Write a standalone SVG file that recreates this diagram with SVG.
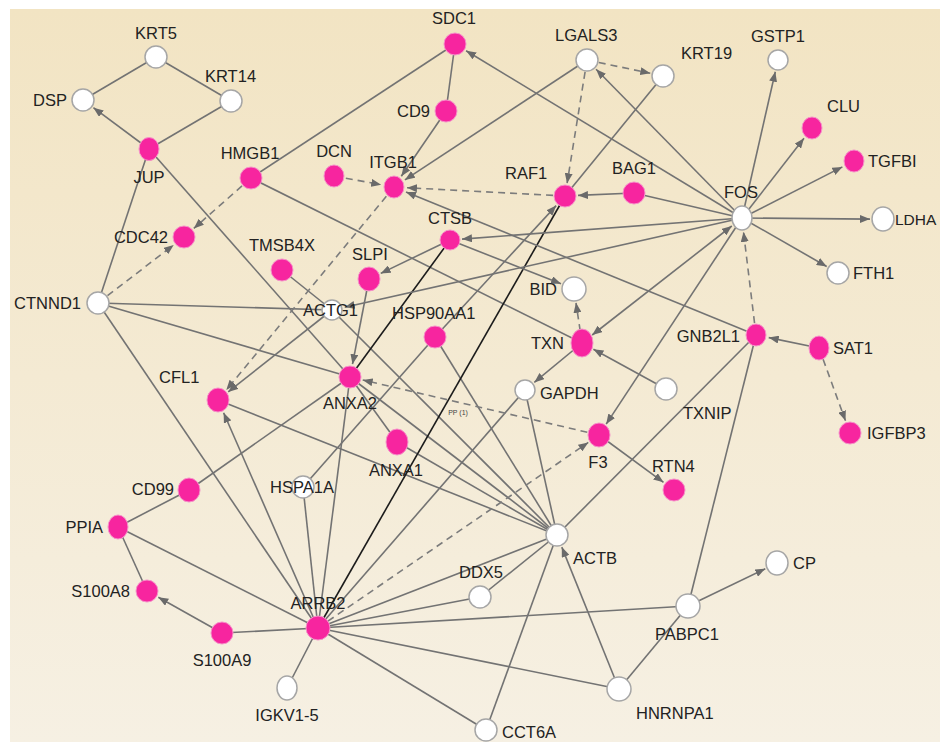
<svg xmlns="http://www.w3.org/2000/svg" width="940" height="742" viewBox="0 0 940 742">
<defs>
<linearGradient id="bg" x1="0" y1="0" x2="0" y2="1">
<stop offset="0" stop-color="#f2e4c3"/>
<stop offset="1" stop-color="#f6f0e3"/>
</linearGradient>
<marker id="ah" viewBox="0 0 10 8" refX="10" refY="4" markerWidth="10" markerHeight="8" markerUnits="userSpaceOnUse" orient="auto-start-reverse">
<path d="M0,0 L10,4 L0,8 z" fill="#6a6a6a"/>
</marker>
</defs>
<style>
.e{stroke:#737373;stroke-width:1.6;fill:none}
.d{stroke-dasharray:7 5;stroke:#7c7c7c}
.k{stroke:#1c1c1c;stroke-width:1.6}
.a{marker-end:url(#ah)}
.b{marker-start:url(#ah);marker-end:url(#ah)}
.p{fill:#f7259f;stroke:#f592c9;stroke-width:1}
.w{fill:#ffffff;stroke:#a6a6a6;stroke-width:1.5}
text{font-family:"Liberation Sans",Arial,sans-serif;font-size:16.5px;fill:#222222}
.m{text-anchor:middle}
.r{text-anchor:end}
.s{font-size:7px;fill:#444444}
</style>
<rect width="940" height="742" fill="#ffffff"/>
<rect x="10" y="9" width="930" height="733" fill="url(#bg)"/>
<g id="edges">
<line class="e" x1="156" y1="57" x2="83" y2="100"/>
<line class="e" x1="156" y1="57" x2="231" y2="101"/>
<line class="e" x1="149" y1="149" x2="231" y2="101"/>
<line class="e" x1="149" y1="149" x2="98" y2="303"/>
<line class="e" x1="149" y1="149" x2="350" y2="377"/>
<line class="e" x1="251" y1="178" x2="455" y2="44"/>
<line class="e" x1="455" y1="44" x2="446" y2="111"/>
<line class="e" x1="251" y1="178" x2="582" y2="343"/>
<line class="e" x1="663" y1="76" x2="565" y2="196"/>
<line class="e" x1="634" y1="193" x2="742" y2="218"/>
<line class="e" x1="98" y1="303" x2="332" y2="310"/>
<line class="e" x1="98" y1="303" x2="350" y2="377"/>
<line class="e" x1="98" y1="303" x2="318" y2="628"/>
<line class="e" x1="282" y1="270" x2="332" y2="310"/>
<line class="e" x1="332" y1="310" x2="557" y2="535"/>
<line class="e" x1="218" y1="400" x2="557" y2="535"/>
<line class="e" x1="189" y1="490" x2="350" y2="377"/>
<line class="e" x1="189" y1="490" x2="118" y2="527"/>
<line class="e" x1="118" y1="527" x2="147" y2="591"/>
<line class="e" x1="118" y1="527" x2="318" y2="628"/>
<line class="e" x1="222" y1="633" x2="318" y2="628"/>
<line class="e" x1="287" y1="688" x2="318" y2="628"/>
<line class="e" x1="303" y1="487" x2="318" y2="628"/>
<line class="e" x1="303" y1="487" x2="435" y2="337"/>
<line class="e" x1="350" y1="377" x2="318" y2="628"/>
<line class="e" x1="350" y1="377" x2="397" y2="442"/>
<line class="e" x1="350" y1="377" x2="557" y2="535"/>
<line class="e" x1="397" y1="442" x2="557" y2="535"/>
<line class="e" x1="435" y1="337" x2="557" y2="535"/>
<line class="e" x1="525" y1="390" x2="557" y2="535"/>
<line class="e" x1="525" y1="390" x2="318" y2="628"/>
<line class="e" x1="318" y1="628" x2="557" y2="535"/>
<line class="e" x1="318" y1="628" x2="480" y2="597"/>
<line class="e" x1="480" y1="597" x2="557" y2="535"/>
<line class="e" x1="318" y1="628" x2="688" y2="606"/>
<line class="e" x1="318" y1="628" x2="619" y2="689"/>
<line class="e" x1="318" y1="628" x2="486" y2="730"/>
<line class="e" x1="486" y1="730" x2="557" y2="535"/>
<line class="e" x1="688" y1="606" x2="619" y2="689"/>
<line class="e" x1="688" y1="606" x2="756" y2="335"/>
<line class="e" x1="756" y1="335" x2="557" y2="535"/>
<line class="e k" x1="450" y1="240" x2="350" y2="377"/>
<line class="e k" x1="565" y1="196" x2="318" y2="628"/>
<line class="e a" x1="149" y1="149" x2="93.4" y2="107.7"/>
<line class="e d a" x1="98" y1="303" x2="173.7" y2="244.9"/>
<line class="e d a" x1="251" y1="178" x2="193.8" y2="228.4"/>
<line class="e a" x1="446" y1="111" x2="401.3" y2="176.3"/>
<line class="e d a" x1="334" y1="176" x2="381.2" y2="184.7"/>
<line class="e a" x1="587" y1="60" x2="404.9" y2="179.9"/>
<line class="e d a" x1="565" y1="196" x2="407" y2="187.7"/>
<line class="e a" x1="756" y1="335" x2="406" y2="191.9"/>
<line class="e d a" x1="394" y1="187" x2="226.3" y2="390"/>
<line class="e a" x1="332" y1="310" x2="228.2" y2="391.9"/>
<line class="e a" x1="318" y1="628" x2="223.6" y2="412.8"/>
<line class="e d a" x1="587" y1="60" x2="650.3" y2="73.3"/>
<line class="e d a" x1="587" y1="60" x2="567.1" y2="183.2"/>
<line class="e a" x1="634" y1="193" x2="578" y2="195.4"/>
<line class="e a" x1="435" y1="337" x2="556.2" y2="205.6"/>
<line class="e a" x1="742" y1="218" x2="466.1" y2="50.7"/>
<line class="e a" x1="742" y1="218" x2="596.1" y2="69.3"/>
<line class="e a" x1="742" y1="218" x2="775.3" y2="71.7"/>
<line class="e a" x1="742" y1="218" x2="804" y2="138.3"/>
<line class="e a" x1="742" y1="218" x2="842.4" y2="166.9"/>
<line class="e a" x1="742" y1="218" x2="870" y2="219.1"/>
<line class="e a" x1="742" y1="218" x2="826.7" y2="266.5"/>
<line class="e a" x1="742" y1="218" x2="462" y2="239.1"/>
<line class="e a" x1="742" y1="218" x2="344.7" y2="307.2"/>
<line class="e b" x1="731.8" y1="226" x2="592.2" y2="335"/>
<line class="e a" x1="742" y1="218" x2="606.2" y2="424.1"/>
<line class="e d a" x1="756" y1="335" x2="743.5" y2="231.9"/>
<line class="e a" x1="819" y1="348" x2="768.7" y2="337.6"/>
<line class="e d a" x1="819" y1="348" x2="845.5" y2="420.8"/>
<line class="e a" x1="450" y1="240" x2="380.7" y2="273.4"/>
<line class="e a" x1="450" y1="240" x2="561" y2="283.8"/>
<line class="e d a" x1="582" y1="343" x2="576" y2="302.8"/>
<line class="e a" x1="582" y1="343" x2="534.3" y2="382.4"/>
<line class="e a" x1="666" y1="389" x2="593.4" y2="349.2"/>
<line class="e a" x1="369" y1="279" x2="352.5" y2="364.2"/>
<line class="e d a" x1="599" y1="435" x2="362.7" y2="380"/>
<line class="e d a" x1="318" y1="628" x2="588.3" y2="442.4"/>
<line class="e a" x1="599" y1="435" x2="663.5" y2="482.3"/>
<line class="e a" x1="222" y1="633" x2="158.3" y2="597.3"/>
<line class="e a" x1="619" y1="689" x2="561.8" y2="547.1"/>
<line class="e a" x1="688" y1="606" x2="765.3" y2="568.7"/>
<text class="s m" x="458" y="415">PP (1)</text>
</g>
<g id="n-KRT5"><ellipse class="w" cx="156" cy="57" rx="11" ry="11"/><text class="m" x="156" y="39">KRT5</text></g>
<g id="n-KRT14"><ellipse class="w" cx="231" cy="101" rx="11" ry="11"/><text x="205" y="82">KRT14</text></g>
<g id="n-DSP"><ellipse class="w" cx="83" cy="100" rx="11" ry="11"/><text class="r" x="67" y="106">DSP</text></g>
<g id="n-JUP"><ellipse class="p" cx="149" cy="149" rx="10" ry="11.5"/><text class="m" x="149" y="183">JUP</text></g>
<g id="n-HMGB1"><ellipse class="p" cx="251" cy="178" rx="11" ry="11"/><text class="m" x="250" y="159">HMGB1</text></g>
<g id="n-CDC42"><ellipse class="p" cx="184" cy="237" rx="11" ry="11"/><text class="r" x="168" y="243">CDC42</text></g>
<g id="n-TMSB4X"><ellipse class="p" cx="282" cy="270" rx="11" ry="11"/><text class="m" x="282" y="251">TMSB4X</text></g>
<g id="n-SDC1"><ellipse class="p" cx="455" cy="44" rx="11" ry="11"/><text class="m" x="454" y="24">SDC1</text></g>
<g id="n-LGALS3"><ellipse class="w" cx="587" cy="60" rx="11" ry="11"/><text x="555" y="41">LGALS3</text></g>
<g id="n-CD9"><ellipse class="p" cx="446" cy="111" rx="11" ry="11"/><text class="r" x="430" y="117">CD9</text></g>
<g id="n-DCN"><ellipse class="p" cx="334" cy="176" rx="10" ry="11"/><text class="m" x="334" y="157">DCN</text></g>
<g id="n-ITGB1"><ellipse class="p" cx="394" cy="187" rx="10" ry="11"/><text class="m" x="393" y="168">ITGB1</text></g>
<g id="n-RAF1"><ellipse class="p" cx="565" cy="196" rx="11" ry="11"/><text x="505" y="179">RAF1</text></g>
<g id="n-CTSB"><ellipse class="p" cx="450" cy="240" rx="10" ry="10"/><text class="m" x="450" y="224">CTSB</text></g>
<g id="n-KRT19"><ellipse class="w" cx="663" cy="76" rx="11" ry="11"/><text x="681" y="59">KRT19</text></g>
<g id="n-GSTP1"><ellipse class="w" cx="778" cy="60" rx="10" ry="10"/><text class="m" x="778" y="42">GSTP1</text></g>
<g id="n-CLU"><ellipse class="p" cx="812" cy="128" rx="10" ry="11"/><text x="827" y="112">CLU</text></g>
<g id="n-TGFBI"><ellipse class="p" cx="854" cy="161" rx="10" ry="11"/><text x="868" y="167">TGFBI</text></g>
<g id="n-BAG1"><ellipse class="p" cx="634" cy="193" rx="11" ry="11"/><text class="m" x="634" y="174">BAG1</text></g>
<g id="n-FOS"><ellipse class="w" cx="742" cy="218" rx="10" ry="12"/><text class="m" x="741" y="198">FOS</text></g>
<g id="n-LDHA"><ellipse class="w" cx="883" cy="219" rx="11" ry="12"/><text x="895" y="225" style="font-size:15.5px">LDHA</text></g>
<g id="n-FTH1"><ellipse class="w" cx="838" cy="273" rx="11" ry="11"/><text x="853" y="279">FTH1</text></g>
<g id="n-GNB2L1"><ellipse class="p" cx="756" cy="335" rx="10" ry="11"/><text class="r" x="740" y="342">GNB2L1</text></g>
<g id="n-SAT1"><ellipse class="p" cx="819" cy="348" rx="10" ry="12"/><text x="833" y="354">SAT1</text></g>
<g id="n-IGFBP3"><ellipse class="p" cx="850" cy="433" rx="11" ry="11"/><text x="867" y="439">IGFBP3</text></g>
<g id="n-TXNIP"><ellipse class="w" cx="666" cy="389" rx="11" ry="11"/><text x="683" y="419">TXNIP</text></g>
<g id="n-RTN4"><ellipse class="p" cx="674" cy="490" rx="11" ry="11"/><text x="652" y="472">RTN4</text></g>
<g id="n-BID"><ellipse class="w" cx="574" cy="289" rx="12" ry="12"/><text class="r" x="557" y="295">BID</text></g>
<g id="n-TXN"><ellipse class="p" cx="582" cy="343" rx="11" ry="14"/><text class="r" x="564" y="349">TXN</text></g>
<g id="n-GAPDH"><ellipse class="w" cx="525" cy="390" rx="10" ry="10"/><text x="540" y="399">GAPDH</text></g>
<g id="n-HSP90AA1"><ellipse class="p" cx="435" cy="337" rx="11" ry="11"/><text x="392" y="319">HSP90AA1</text></g>
<g id="n-SLPI"><ellipse class="p" cx="369" cy="279" rx="11" ry="12"/><text class="m" x="370" y="260">SLPI</text></g>
<g id="n-ACTG1"><ellipse class="w" cx="332" cy="310" rx="10" ry="10"/><text x="303" y="316">ACTG1</text></g>
<g id="n-ANXA2"><ellipse class="p" cx="350" cy="377" rx="11" ry="11"/><text class="m" x="350" y="409">ANXA2</text></g>
<g id="n-ANXA1"><ellipse class="p" cx="397" cy="442" rx="11" ry="13"/><text class="m" x="396" y="476">ANXA1</text></g>
<g id="n-F3"><ellipse class="p" cx="599" cy="435" rx="11" ry="12"/><text class="m" x="598" y="468">F3</text></g>
<g id="n-CTNND1"><ellipse class="w" cx="98" cy="303" rx="11" ry="11"/><text class="r" x="81" y="309">CTNND1</text></g>
<g id="n-CFL1"><ellipse class="p" cx="218" cy="400" rx="11" ry="12"/><text x="159" y="383">CFL1</text></g>
<g id="n-CD99"><ellipse class="p" cx="189" cy="490" rx="11" ry="12"/><text class="r" x="174" y="495">CD99</text></g>
<g id="n-PPIA"><ellipse class="p" cx="118" cy="527" rx="10" ry="12"/><text class="r" x="103" y="533">PPIA</text></g>
<g id="n-S100A8"><ellipse class="p" cx="147" cy="591" rx="11" ry="11"/><text class="r" x="130" y="597">S100A8</text></g>
<g id="n-S100A9"><ellipse class="p" cx="222" cy="633" rx="11" ry="11"/><text class="m" x="222" y="666">S100A9</text></g>
<g id="n-IGKV1-5"><ellipse class="w" cx="287" cy="688" rx="10" ry="12"/><text class="m" x="287" y="721">IGKV1-5</text></g>
<g id="n-ARRB2"><ellipse class="p" cx="318" cy="628" rx="12" ry="12"/><text class="m" x="318" y="609">ARRB2</text></g>
<g id="n-HSPA1A"><ellipse class="w" cx="303" cy="487" rx="11" ry="11"/><text x="270" y="493">HSPA1A</text></g>
<g id="n-ACTB"><ellipse class="w" cx="557" cy="535" rx="11" ry="11"/><text x="573" y="564">ACTB</text></g>
<g id="n-DDX5"><ellipse class="w" cx="480" cy="597" rx="11" ry="11"/><text class="m" x="481" y="578">DDX5</text></g>
<g id="n-CCT6A"><ellipse class="w" cx="486" cy="730" rx="11" ry="11"/><text x="502" y="738">CCT6A</text></g>
<g id="n-HNRNPA1"><ellipse class="w" cx="619" cy="689" rx="12" ry="12"/><text x="636" y="719">HNRNPA1</text></g>
<g id="n-PABPC1"><ellipse class="w" cx="688" cy="606" rx="12" ry="12"/><text x="655" y="640">PABPC1</text></g>
<g id="n-CP"><ellipse class="w" cx="777" cy="563" rx="11" ry="12"/><text x="793" y="569">CP</text></g>
</svg>
